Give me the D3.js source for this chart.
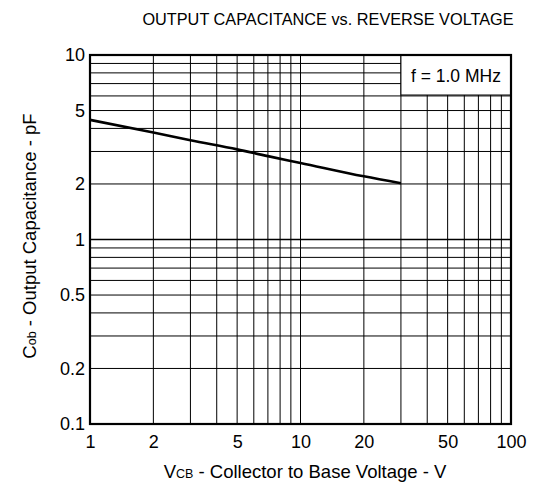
<!DOCTYPE html>
<html>
<head>
<meta charset="utf-8">
<script src="https://cdn.jsdelivr.net/npm/d3@7"></script>
<style>
  html, body { margin: 0; padding: 0; background: #fff; }
  svg { display: block; font-family: "Liberation Sans", Arial, sans-serif; }
</style>
</head>
<body>
<svg id="chart" width="534" height="489"></svg>
<script>
// Data
const voltage = [1, 2, 3, 5, 7, 10, 20, 30];
const capacitance = [4.45, 3.8, 3.45, 3.08, 2.83, 2.6, 2.2, 2.02];
const xTicks = [1, 2, 5, 10, 20, 50, 100];
const yTicks = [0.1, 0.2, 0.5, 1, 2, 5, 10];
const xGrid = [2, 3, 4, 5, 6, 7, 8, 9, 10, 20, 30, 40, 50, 60, 70, 80, 90];
const yGrid = [0.2, 0.3, 0.4, 0.5, 0.6, 0.7, 0.8, 0.9, 1, 2, 3, 4, 5, 6, 7, 8, 9];
const titleText = "OUTPUT CAPACITANCE vs. REVERSE VOLTAGE";
const legendText = "f = 1.0 MHz";

const svg = d3.select("#chart");
const L = 90, R = 511, T = 55, B = 424;

const x = d3.scaleLog().domain([1, 100]).range([L, R]);
const y = d3.scaleLog().domain([0.1, 10]).range([B, T]);

// title
svg.append("text")
  .attr("x", 328).attr("y", 25)
  .attr("text-anchor", "middle")
  .attr("font-size", 16.3)
  .text(titleText);

// gridlines
const g = svg.append("g");
g.selectAll("line.vx").data(xGrid).join("line")
  .attr("x1", d => x(d)).attr("x2", d => x(d))
  .attr("y1", T).attr("y2", B)
  .attr("stroke", "#000").attr("stroke-width", 1);
g.selectAll("line.hy").data(yGrid).join("line")
  .attr("x1", L).attr("x2", R)
  .attr("y1", d => y(d)).attr("y2", d => y(d))
  .attr("stroke", "#000").attr("stroke-width", d => d === 1 ? 1.6 : 1);

// legend box (covers the grid)
const lx0 = x(30), ly1 = 95;
svg.append("rect")
  .attr("x", lx0).attr("y", T)
  .attr("width", R - lx0).attr("height", ly1 - T)
  .attr("fill", "#fff").attr("stroke", "#000").attr("stroke-width", 1);
svg.append("text")
  .attr("x", (lx0 + R) / 2).attr("y", (T + ly1) / 2 + 6.5)
  .attr("text-anchor", "middle")
  .attr("font-size", 17.5)
  .text(legendText);

// curve
const line = d3.line()
  .x((d, i) => x(voltage[i]))
  .y(d => y(d))
  .curve(d3.curveMonotoneX);
svg.append("path")
  .datum(capacitance)
  .attr("d", line)
  .attr("fill", "none")
  .attr("stroke", "#000")
  .attr("stroke-width", 2.6);

// frame
svg.append("rect")
  .attr("x", L).attr("y", T).attr("width", R - L).attr("height", B - T)
  .attr("fill", "none").attr("stroke", "#000").attr("stroke-width", 2.2);

// axes
const fmt = d => String(d);
const xAxis = svg.append("g")
  .attr("transform", `translate(0,${B})`)
  .call(d3.axisBottom(x).tickValues(xTicks).tickFormat(fmt).tickSize(0).tickPadding(11));
const yAxis = svg.append("g")
  .attr("transform", `translate(${L},0)`)
  .call(d3.axisLeft(y).tickValues(yTicks).tickFormat(fmt).tickSize(0).tickPadding(5));
[xAxis, yAxis].forEach(a => {
  a.select(".domain").remove();
  a.selectAll("text").attr("font-size", 18).attr("fill", "#000")
    .attr("font-family", "Liberation Sans, Arial, sans-serif");
});

// x axis title
const xt = svg.append("text")
  .attr("x", 305).attr("y", 478)
  .attr("text-anchor", "middle")
  .attr("font-size", 18.5);
xt.append("tspan").text("V");
xt.append("tspan").attr("font-size", 12.5).text("CB");
xt.append("tspan").text(" - Collector to Base Voltage - V");

// y axis title
const yt = svg.append("text")
  .attr("transform", "translate(36,236) rotate(-90)")
  .attr("text-anchor", "middle")
  .attr("font-size", 18.5);
yt.append("tspan").text("C");
yt.append("tspan").attr("font-size", 12.5).text("ob");
yt.append("tspan").text(" - Output Capacitance - pF");
</script>
</body>
</html>
